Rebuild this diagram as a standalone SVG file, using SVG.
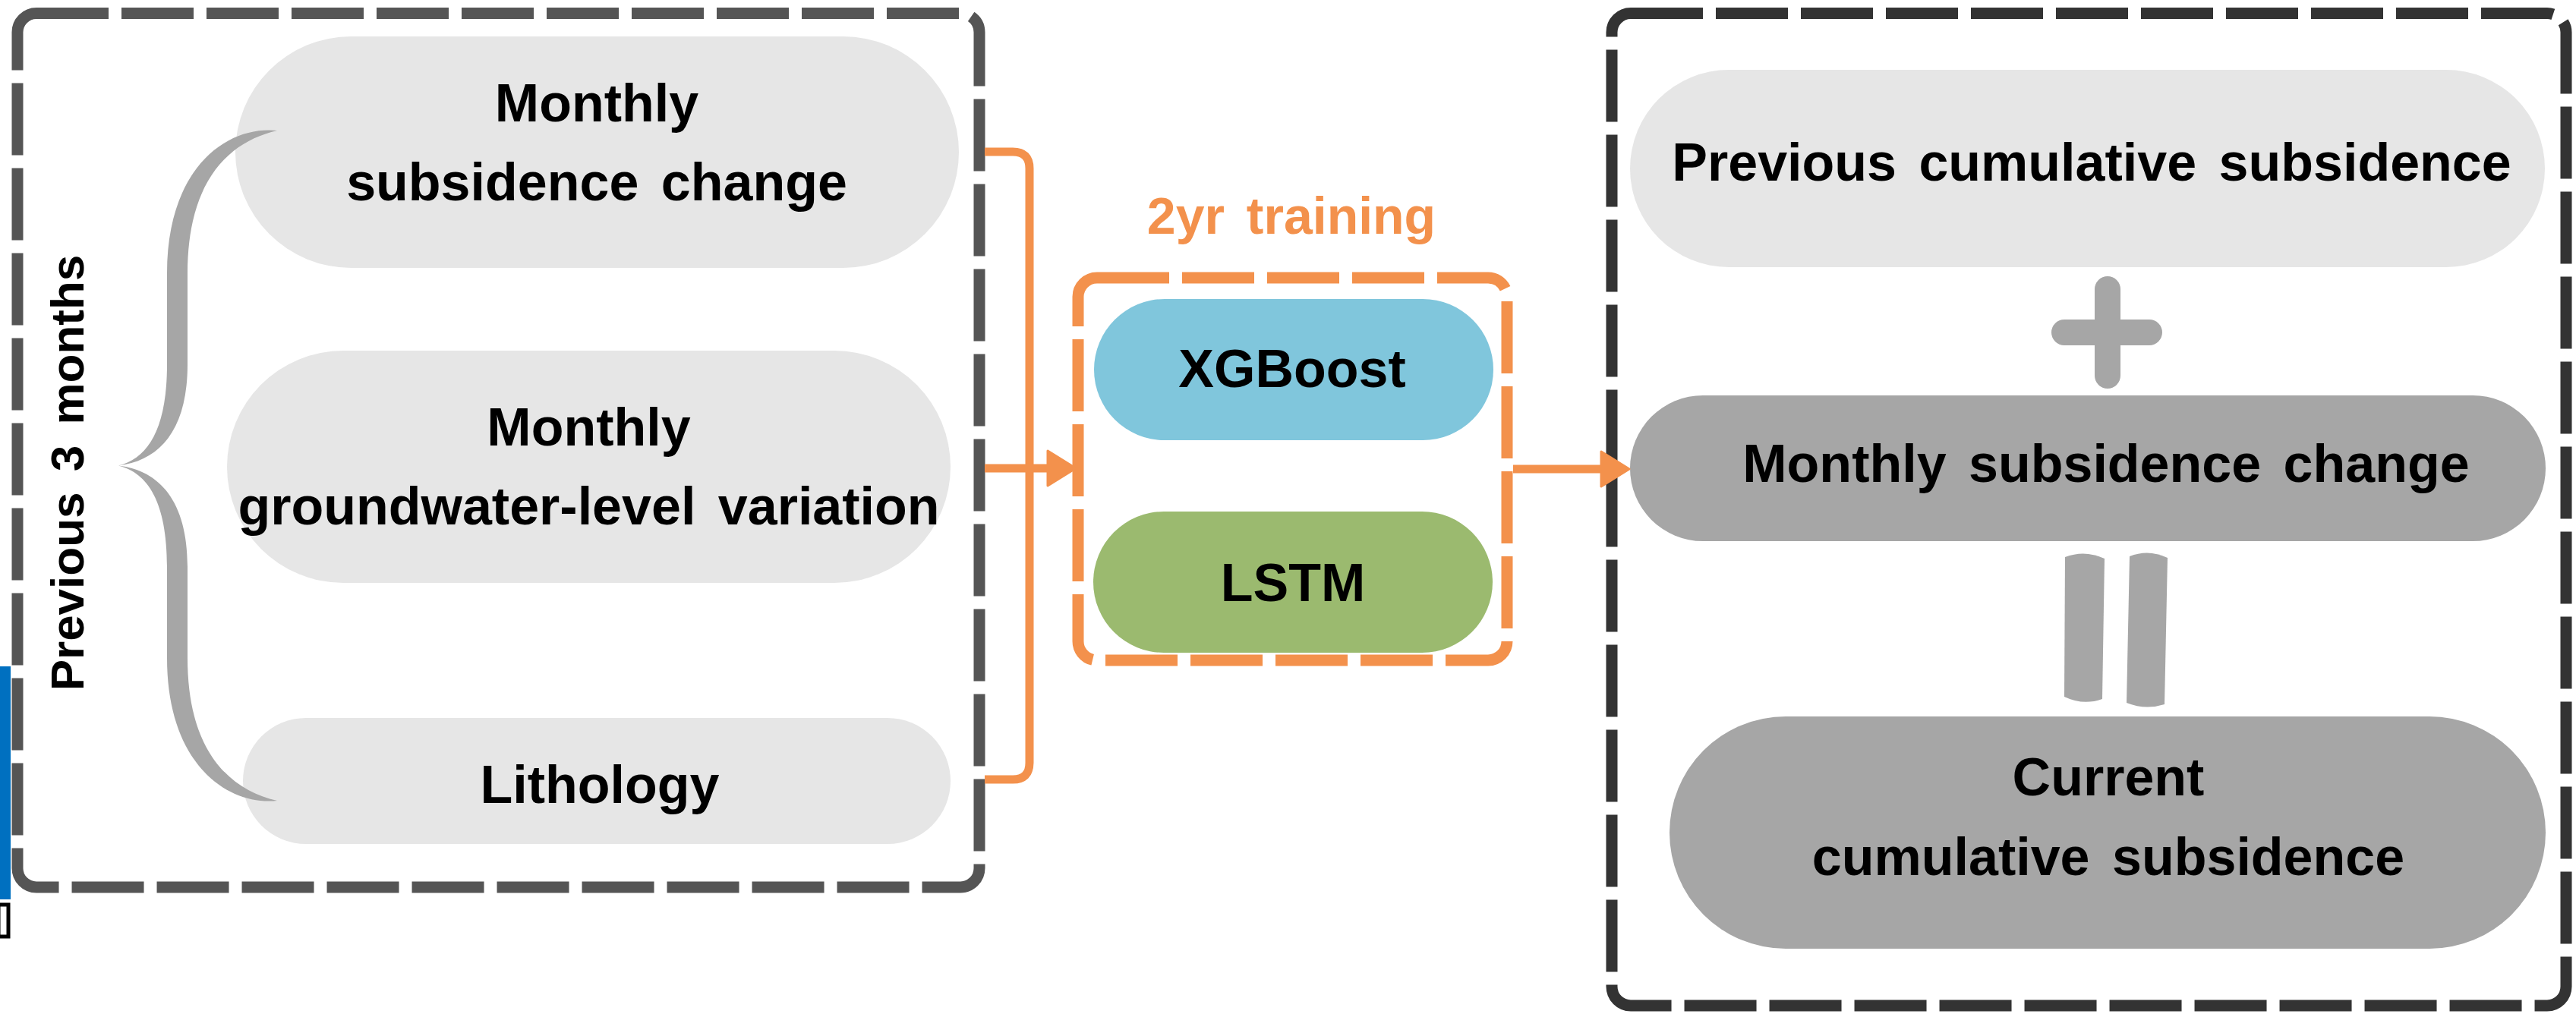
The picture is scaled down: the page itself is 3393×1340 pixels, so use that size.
<svg xmlns="http://www.w3.org/2000/svg" width="3393" height="1340" viewBox="0 0 3393 1340">
  <defs>
    <style>
      .lbl { font-family: "Liberation Sans", Arial, sans-serif; font-weight: bold; font-size: 70px; fill: #000; text-anchor: middle; word-spacing: 10px; }
      .pill-light { fill: #e6e6e6; }
      .pill-dark { fill: #a6a6a6; }
      .frame { fill: none; stroke-width: 15; stroke-dasharray: 95 17; }
      .link { fill: none; stroke: #f3914c; stroke-width: 11; }
      .sym { fill: none; stroke: #a6a6a6; stroke-width: 34; stroke-linecap: round; }
    </style>
    <marker id="arrow" markerUnits="userSpaceOnUse" markerWidth="44" markerHeight="52" viewBox="-2 -3 44 52" refX="10" refY="23" orient="auto" overflow="visible">
      <path d="M0,0 L37,23 L0,46 Z" fill="#f3914c" stroke="#f3914c" stroke-width="3" stroke-linejoin="round"/>
    </marker>
  </defs>

  <rect width="3393" height="1340" fill="#ffffff"/>

  <!-- edge strip at the far left -->
  <rect x="0" y="878" width="14" height="307" fill="#0070c0"/>
  <rect x="-2" y="1192" width="13" height="42" fill="none" stroke="#000" stroke-width="5"/>

  <!-- input panel -->
  <g id="input-panel">
    <rect class="frame" x="23" y="17.5" width="1267" height="1151.5" rx="25" stroke="#555555"/>
  </g>

  <g id="in-subsidence">
    <rect class="pill-light" x="310" y="48" width="953" height="305" rx="152.5"/>
    <text class="lbl" x="786" y="160">Monthly</text>
    <text class="lbl" x="786" y="264">subsidence change</text>
  </g>

  <g id="in-groundwater">
    <rect class="pill-light" x="299" y="462" width="953" height="306" rx="153"/>
    <text class="lbl" x="775.5" y="587">Monthly</text>
    <text class="lbl" x="775.5" y="691">groundwater-level variation</text>
  </g>

  <g id="in-lithology">
    <rect class="pill-light" x="320" y="946" width="932" height="166" rx="83"/>
    <text class="lbl" x="790" y="1058">Lithology</text>
  </g>

  <g id="period">
    <path fill="#a6a6a6" d="M365,172 C300,165 220,220 220,360 L220,480 C220,565 195,604 156,613.5 C195,623 220,662 220,747 L220,867 C220,1007 300,1062 365,1055 C300,1040 247,987 247,867 L247,747 C247,660 210,620 156,613.5 C210,607 247,567 247,480 L247,360 C247,240 300,187 365,172 Z"/>
    <text class="lbl" style="font-size:62px" transform="translate(110,623) rotate(-90)">Previous 3 months</text>
  </g>

  <!-- model panel -->
  <g id="training">
    <rect class="frame" x="1420" y="366" width="565" height="504" rx="25" stroke="#f3914c"/>
    <text class="lbl" x="1701" y="308" style="font-size:68px;fill:#f3914c">2yr training</text>
  </g>

  <g id="xgboost">
    <rect x="1441" y="394" width="526" height="186" rx="93" fill="#80c6dc"/>
    <text class="lbl" x="1702" y="510">XGBoost</text>
  </g>

  <g id="lstm">
    <rect x="1440" y="674" width="526" height="186" rx="93" fill="#9bba6f"/>
    <text class="lbl" x="1703" y="792">LSTM</text>
  </g>

  <!-- output panel -->
  <g id="output-panel">
    <rect class="frame" x="2123" y="17.5" width="1257" height="1307.5" rx="25" stroke="#333333"/>
  </g>

  <g id="prev-cumulative">
    <rect class="pill-light" x="2147" y="92" width="1205" height="260" rx="130"/>
    <text class="lbl" x="2755" y="238">Previous cumulative subsidence</text>
  </g>

  <g id="plus">
    <path class="sym" d="M2776,381 V495 M2719,438 H2831"/>
  </g>

  <g id="out-subsidence">
    <rect class="pill-dark" x="2147" y="521" width="1206" height="192" rx="96"/>
    <text class="lbl" x="2774" y="635">Monthly subsidence change</text>
  </g>

  <g id="equals">
    <path fill="#a6a6a6" d="M2720,734 Q2746,724 2772,736 L2769,921 Q2744,930 2719,918 Z"/>
    <path fill="#a6a6a6" d="M2805,733 Q2830,723 2855,735 L2851,928 Q2826,936 2801,926 Z"/>
  </g>

  <g id="current-cumulative">
    <rect class="pill-dark" x="2199" y="944" width="1154" height="306" rx="153"/>
    <text class="lbl" x="2777" y="1048">Current</text>
    <text class="lbl" x="2777" y="1153">cumulative subsidence</text>
  </g>

  <!-- connectors -->
  <g id="connectors">
    <path class="link" d="M1297,200 H1334 Q1356,200 1356,222 V1005 Q1356,1027 1334,1027 H1297"/>
    <path class="link" d="M1297,617 H1390" marker-end="url(#arrow)"/>
    <path class="link" d="M1993,618 H2119" marker-end="url(#arrow)"/>
  </g>
</svg>
